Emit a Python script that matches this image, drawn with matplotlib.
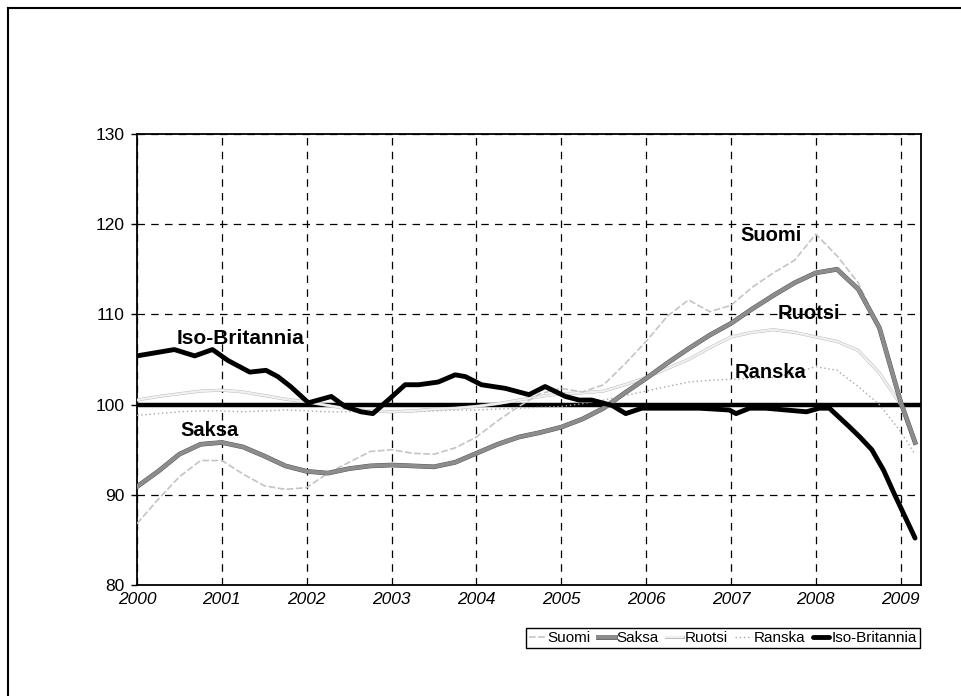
import numpy as np
import matplotlib
matplotlib.use("Agg")
import matplotlib.pyplot as plt
from matplotlib.lines import Line2D
import matplotlib.patheffects as pe

plt.rcParams["font.family"] = ["Liberation Sans", "DejaVu Sans"]

# quarterly time axis for the smooth series
quarters = [2000.0, 2000.25, 2000.5, 2000.75, 2001.0, 2001.25, 2001.5, 2001.75,
            2002.0, 2002.25, 2002.5, 2002.75, 2003.0, 2003.25, 2003.5, 2003.75,
            2004.0, 2004.25, 2004.5, 2004.75, 2005.0, 2005.25, 2005.5, 2005.75,
            2006.0, 2006.25, 2006.5, 2006.75, 2007.0, 2007.25, 2007.5, 2007.75,
            2008.0, 2008.25, 2008.5, 2008.75, 2009.0, 2009.17]

suomi = [86.8, 89.5, 92.0, 93.8, 93.8, 92.3, 91.0, 90.6,
         90.8, 92.4, 93.6, 94.8, 95.0, 94.6, 94.5, 95.2,
         96.4, 98.2, 99.8, 101.2, 101.8, 101.4, 102.2, 104.5,
         107.0, 109.8, 111.6, 110.3, 111.0, 113.0, 114.6, 116.0,
         118.9, 116.5, 113.5, 108.5, 100.5, 95.5]

saksa = [90.9, 92.6, 94.5, 95.6, 95.8, 95.3, 94.3, 93.2,
         92.6, 92.4, 92.9, 93.2, 93.3, 93.2, 93.1, 93.6,
         94.6, 95.6, 96.4, 96.9, 97.5, 98.4, 99.6, 101.3,
         102.9, 104.6, 106.2, 107.7, 109.0, 110.6, 112.1, 113.5,
         114.6, 115.0, 112.8, 108.5, 100.3, 95.8]

ruotsi = [100.5, 100.9, 101.2, 101.5, 101.6, 101.4, 101.0, 100.6,
          100.3, 99.9, 99.5, 99.3, 99.2, 99.3, 99.5, 99.6,
          99.8, 100.1, 100.5, 100.9, 101.2, 101.3, 101.5, 102.2,
          103.0, 104.0, 105.0, 106.3, 107.5, 108.0, 108.3, 108.0,
          107.5, 107.0, 106.0, 103.5, 100.0, 96.0]

ranska = [98.8, 99.0, 99.2, 99.3, 99.3, 99.2, 99.3, 99.4,
          99.3, 99.2, 99.2, 99.3, 99.3, 99.2, 99.3, 99.4,
          99.4, 99.5, 99.6, 99.7, 99.8, 100.1, 100.5, 101.0,
          101.5, 102.0, 102.5, 102.7, 102.8, 102.9, 103.0, 103.5,
          104.2, 103.8, 102.0, 100.0, 97.0, 94.5]

# UK traced with finer steps
uk_x = [2000.0, 2000.44, 2000.68, 2000.89, 2001.07, 2001.33, 2001.52, 2001.66,
        2001.81, 2002.02, 2002.29, 2002.45, 2002.64, 2002.78, 2002.96, 2003.16,
        2003.32, 2003.55, 2003.75, 2003.87, 2004.06, 2004.34, 2004.62, 2004.81,
        2005.05, 2005.21, 2005.36, 2005.6, 2005.76, 2005.95, 2006.63, 2006.98,
        2007.06, 2007.22, 2007.41, 2007.89, 2008.04, 2008.16, 2008.4, 2008.52,
        2008.66, 2008.8, 2008.92, 2009.17]
uk = [105.4, 106.1, 105.4, 106.1, 104.9, 103.6, 103.8, 103.1,
      102.0, 100.2, 100.9, 99.8, 99.2, 99.0, 100.5, 102.2,
      102.2, 102.5, 103.3, 103.1, 102.2, 101.8, 101.1, 102.0,
      100.9, 100.5, 100.5, 99.9, 99.0, 99.6, 99.6, 99.4,
      99.0, 99.6, 99.6, 99.2, 99.6, 99.6, 97.5, 96.4,
      95.0, 92.7, 90.2, 85.2]

years = list(range(2000, 2010))
yticks = [80, 90, 100, 110, 120, 130]

suomi_style = dict(color="#c4c4c4", lw=1.2, ls=(0, (4, 1.5)))
saksa_style = dict(color="#8c8c8c", lw=2.8,
                   path_effects=[pe.Stroke(linewidth=3.4, foreground="#555555"), pe.Normal()])
ruotsi_style = dict(color="#f0f0f0", lw=1.6,
                    path_effects=[pe.Stroke(linewidth=2.2, foreground="#b8b8b8"), pe.Normal()])
ranska_style = dict(color="#a8a8a8", lw=1.0, ls=(0, (1, 2)))
uk_style = dict(color="black", lw=3.5, solid_joinstyle="round", solid_capstyle="round")

fig = plt.figure(figsize=(9.62, 6.96), dpi=100)
ax = fig.add_axes([0.1424, 0.1595, 0.815, 0.648])

ax.axhline(100, color="black", lw=3.2, zorder=3)

ax.plot(quarters, ranska, zorder=4, **ranska_style)
ax.plot(quarters, ruotsi, zorder=4, **ruotsi_style)
ax.plot(quarters, suomi, zorder=5, **suomi_style)
ax.plot(quarters, saksa, zorder=6, **saksa_style)
ax.plot(uk_x, uk, zorder=7, **uk_style)

ax.set_xlim(2000, 2009.24)
ax.set_ylim(80, 130)
ax.set_xticks(years)
ax.set_xticklabels([str(y) for y in years], fontsize=12.5, style="italic")
ax.set_yticks(yticks)
ax.set_yticklabels([str(v) for v in yticks], fontsize=12.5)
ax.tick_params(axis="x", length=0, pad=5)
ax.tick_params(axis="y", length=4, width=1, pad=5)
ax.grid(True, color="black", ls=(0, (6, 5)), lw=0.9, zorder=1)
for s in ax.spines.values():
    s.set_linewidth(1.3)

lab = dict(fontweight="bold", ha="center", va="center", zorder=9)
ax.text(2001.22, 107.3, "Iso-Britannia", fontsize=15, **lab)
ax.text(2000.85, 97.1, "Saksa", fontsize=14.5, **lab)
ax.text(2007.47, 118.7, "Suomi", fontsize=14.5, **lab)
ax.text(2007.92, 110.1, "Ruotsi", fontsize=14.5, **lab)
ax.text(2007.47, 103.6, "Ranska", fontsize=14.5, **lab)

handles = [Line2D([], [], **st) for st in
           (suomi_style, saksa_style, ruotsi_style, ranska_style, uk_style)]
leg = fig.legend(handles, ["Suomi", "Saksa", "Ruotsi", "Ranska", "Iso-Britannia"],
                 loc="upper right", bbox_to_anchor=(0.9565, 0.0977), ncol=5,
                 fontsize=11, handlelength=1.1, handletextpad=0.15,
                 columnspacing=0.45, borderpad=0.2, borderaxespad=0,
                 fancybox=False, framealpha=1, edgecolor="black")
leg.get_frame().set_linewidth(1.0)

# outer frame of the scanned page (left and top edges)
fig.add_artist(Line2D([0.0085, 0.0085], [0.0, 0.988], color="black", lw=1.5,
                      transform=fig.transFigure))
fig.add_artist(Line2D([0.0085, 1.0], [0.988, 0.988], color="black", lw=1.5,
                      transform=fig.transFigure))

fig.savefig("out.png", dpi=100)
